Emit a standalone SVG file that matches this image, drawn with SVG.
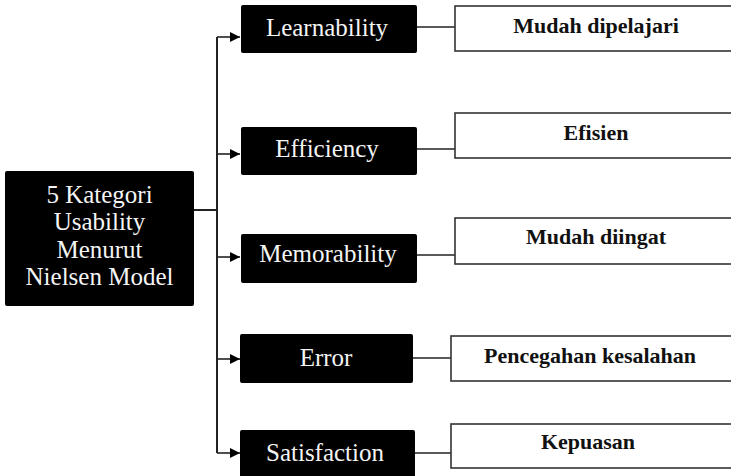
<svg xmlns="http://www.w3.org/2000/svg" width="731" height="476" viewBox="0 0 731 476">
  <style>
    .dark rect { fill: #000; }
    .dark text { fill: #f4f4f4; font-size: 25px; text-anchor: middle; }
    .light rect { fill: #fff; stroke: #333; stroke-width: 1.6; }
    .light text { fill: #111; font-weight: bold; font-size: 22px; text-anchor: middle; }
    .wire { fill: none; stroke: #222; stroke-width: 1.6; }
    .trunk { fill: none; stroke: #222; stroke-width: 2; }
  </style>
  <defs>
    <marker id="arrow" viewBox="0 0 10 10" refX="10" refY="5" markerWidth="10" markerHeight="10" markerUnits="userSpaceOnUse" orient="auto">
      <path d="M0,0 L10,5 L0,10 z" fill="#000"/>
    </marker>
  </defs>

  <!-- connectors -->
  <g id="connectors">
    <path class="trunk" d="M194,210 H217 M217,37 V453"/>
    <path class="wire" d="M217,37 H240" marker-end="url(#arrow)"/>
    <path class="wire" d="M217,154 H240" marker-end="url(#arrow)"/>
    <path class="wire" d="M217,257 H240" marker-end="url(#arrow)"/>
    <path class="wire" d="M217,359 H240" marker-end="url(#arrow)"/>
    <path class="wire" d="M217,453 H240" marker-end="url(#arrow)"/>
    <path class="wire" d="M417,27 H455"/>
    <path class="wire" d="M417,149 H455"/>
    <path class="wire" d="M417,255 H455"/>
    <path class="wire" d="M413,358 H451"/>
    <path class="wire" d="M412,453 H451"/>
  </g>

  <g font-family="'Liberation Serif', 'DejaVu Serif', serif">
  <!-- root category -->
  <g id="root" class="dark">
    <rect x="5" y="171" width="189" height="135" rx="2"/>
    <text x="99.5" y="203">5 Kategori</text>
    <text x="99.5" y="230">Usability</text>
    <text x="99.5" y="258">Menurut</text>
    <text x="99.5" y="285">Nielsen Model</text>
  </g>

  <!-- usability categories -->
  <g id="learnability" class="dark">
    <rect x="241" y="5" width="176" height="48" rx="2"/>
    <text x="327" y="36">Learnability</text>
  </g>
  <g id="efficiency" class="dark">
    <rect x="241" y="127" width="176" height="48" rx="2"/>
    <text x="327" y="157">Efficiency</text>
  </g>
  <g id="memorability" class="dark">
    <rect x="241" y="234" width="176" height="49" rx="2"/>
    <text x="328" y="262">Memorability</text>
  </g>
  <g id="error" class="dark">
    <rect x="240" y="334" width="173" height="49" rx="2"/>
    <text x="326" y="366">Error</text>
  </g>
  <g id="satisfaction" class="dark">
    <rect x="240" y="430" width="175" height="52" rx="2"/>
    <text x="325" y="461">Satisfaction</text>
  </g>

  <!-- descriptions -->
  <g id="desc-learnability" class="light">
    <rect x="455" y="6" width="285" height="45"/>
    <text x="596" y="33">Mudah dipelajari</text>
  </g>
  <g id="desc-efficiency" class="light">
    <rect x="455" y="113" width="285" height="45"/>
    <text x="596" y="140">Efisien</text>
  </g>
  <g id="desc-memorability" class="light">
    <rect x="455" y="218" width="285" height="46"/>
    <text x="596" y="244">Mudah diingat</text>
  </g>
  <g id="desc-error" class="light">
    <rect x="451" y="336" width="290" height="45"/>
    <text x="590" y="363">Pencegahan kesalahan</text>
  </g>
  <g id="desc-satisfaction" class="light">
    <rect x="451" y="424" width="290" height="44"/>
    <text x="588" y="449">Kepuasan</text>
  </g>
  </g>
</svg>
